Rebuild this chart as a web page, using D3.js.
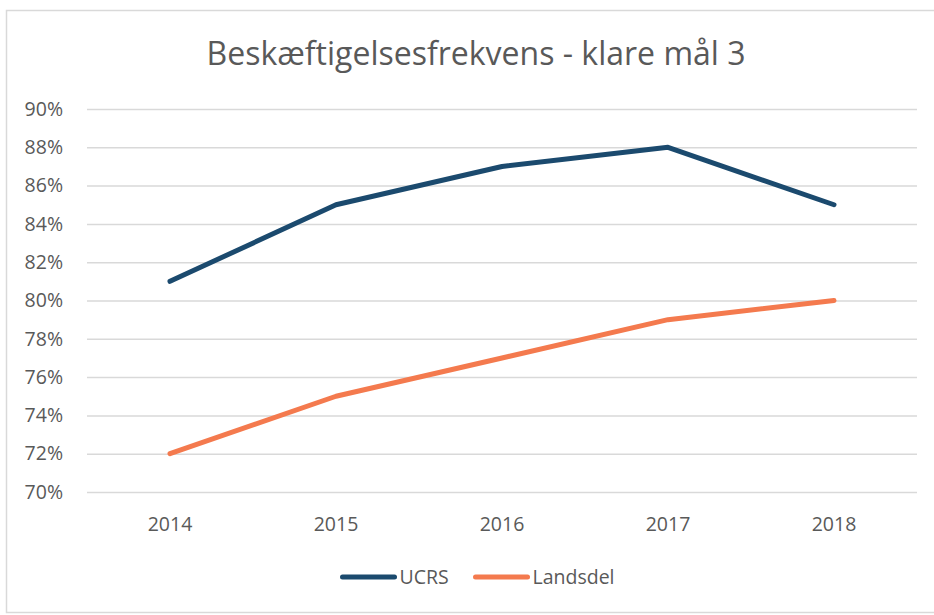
<!DOCTYPE html>
<html>
<head>
<meta charset="utf-8">
<script src="https://cdn.jsdelivr.net/npm/d3@7"></script>
<style>
    body { margin: 0; background: #fff; }
    text { font-family: "Open Sans", "Noto Sans", sans-serif; fill: #595959; }
</style>
</head>
<body>
<div id="chart"></div>
<script>
const years = ['2014', '2015', '2016', '2017', '2018']
const ucrs = [0.81, 0.85, 0.87, 0.88, 0.85]
const landsdel = [0.72, 0.75, 0.77, 0.79, 0.80]
const yTicks = [0.70, 0.72, 0.74, 0.76, 0.78, 0.80, 0.82, 0.84, 0.86, 0.88, 0.90]
const seriesNames = ['UCRS', 'Landsdel']
const seriesColors = ['#1b4a6e', '#f47a4e']

function drawChart() {
    let dimensions = {
        width: 934,
        height: 615,
        margin: { top: 109, right: 17, bottom: 123, left: 87 },
    }
    dimensions.boundedWidth = dimensions.width - dimensions.margin.left - dimensions.margin.right
    dimensions.boundedHeight = dimensions.height - dimensions.margin.top - dimensions.margin.bottom

    const svg = d3.select('#chart')
        .append('svg')
        .attr('width', dimensions.width)
        .attr('height', dimensions.height)

    // chart frame
    svg.append('rect')
        .attr('x', 6.5)
        .attr('y', 10.5)
        .attr('width', 940)
        .attr('height', 602)
        .attr('fill', 'none')
        .attr('stroke', '#d9d9d9')
        .attr('stroke-width', 1.5)

    svg.append('text')
        .attr('x', 476)
        .attr('y', 65)
        .attr('text-anchor', 'middle')
        .style('font-size', '32px')
        .text('Beskæftigelsesfrekvens - klare mål 3')

    const bounds = svg.append('g')
        .attr('transform', `translate(${dimensions.margin.left}, ${dimensions.margin.top})`)

    const xScale = d3.scaleBand()
        .domain(years)
        .range([0, dimensions.boundedWidth])

    const yScale = d3.scaleLinear()
        .domain([0.70, 0.90])
        .range([dimensions.boundedHeight, 0])

    const yAxis = d3.axisLeft(yScale)
        .tickValues(yTicks)
        .tickFormat(d3.format('.0%'))
        .tickSize(-dimensions.boundedWidth)
        .tickPadding(24)

    const yAxisGroup = bounds.append('g').call(yAxis)
    yAxisGroup.select('.domain').remove()
    yAxisGroup.selectAll('line')
        .attr('stroke', '#d9d9d9')
        .attr('stroke-width', 1.5)
    yAxisGroup.selectAll('text')
        .style('font-size', '19.5px')
        .attr('fill', '#595959')

    const xAxis = d3.axisBottom(xScale)
        .tickSize(0)
        .tickPadding(25)

    const xAxisGroup = bounds.append('g')
        .attr('transform', `translate(0, ${dimensions.boundedHeight})`)
        .call(xAxis)
    xAxisGroup.select('.domain').remove()
    xAxisGroup.selectAll('text')
        .style('font-size', '19.5px')
        .attr('fill', '#595959')

    const lineGenerator = d3.line()
        .x((d, i) => xScale(years[i]) + xScale.bandwidth() / 2)
        .y(d => yScale(d))

    const seriesData = [ucrs, landsdel]
    bounds.selectAll('.series')
        .data(seriesData)
        .enter().append('path')
        .attr('class', 'series')
        .attr('d', lineGenerator)
        .attr('fill', 'none')
        .attr('stroke', (d, i) => seriesColors[i])
        .attr('stroke-width', 5)
        .attr('stroke-linecap', 'round')
        .attr('stroke-linejoin', 'round')

    // legend
    const legendGroup = svg.append('g')
        .attr('transform', 'translate(0, 577)')
    const legendX = [342.5, 475.5]
    const legendItems = legendGroup.selectAll('g')
        .data(seriesNames)
        .enter().append('g')
        .attr('transform', (d, i) => `translate(${legendX[i]}, 0)`)
    legendItems.append('line')
        .attr('x1', 0)
        .attr('x2', 52)
        .attr('stroke', (d, i) => seriesColors[i])
        .attr('stroke-width', 5)
        .attr('stroke-linecap', 'round')
    legendItems.append('text')
        .attr('x', 57)
        .attr('dy', '0.35em')
        .style('font-size', '19.5px')
        .text(d => d)
}

drawChart()
</script>
</body>
</html>
